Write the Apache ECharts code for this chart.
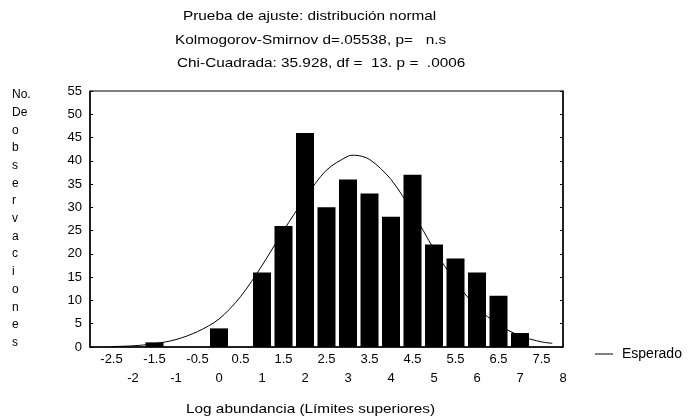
<!DOCTYPE html>
<html lang="es">
<head>
    <meta charset="UTF-8">
    <title>Prueba de ajuste: distribución normal</title>
    <script src="https://cdn.jsdelivr.net/npm/echarts@6.0.0/dist/echarts.min.js"></script>
    <style>
        html, body { margin: 0; padding: 0; background: #fff; }
        #chart { width: 691px; height: 416px; }
    </style>
</head>
<body>
    <div id="chart"></div>

    <script>
        // límites superiores de cada clase y frecuencias observadas
        var binLimits = [-2.5, -2, -1.5, -1, -0.5, 0, 0.5, 1, 1.5, 2, 2.5, 3, 3.5, 4, 4.5, 5, 5.5, 6, 6.5, 7, 7.5, 8];
        var observed  = [0, 0, 1, 0, 0, 4, 0, 16, 26, 46, 30, 36, 33, 28, 37, 22, 19, 16, 11, 3, 0, 0];

        // curva esperada
        var expectedX = [-2.5, -2, -1.5, -1, -0.5, 0, 0.5, 1, 1.5, 2, 2.5, 3, 3.15, 3.5, 4, 4.5, 5, 5.5, 6, 6.5, 7, 7.5, 7.75];
        var expectedY = [0.1, 0.25, 0.7, 1.6, 3.3, 6, 10.8, 17.5, 25, 32, 38, 41, 41.2, 40.3, 36, 29, 21, 14, 8.5, 4.8, 2.4, 1.1, 0.8];

        var titleLines = [
            'Prueba de ajuste: distribución normal',
            'Kolmogorov-Smirnov d=.05538, p=   n.s',
            'Chi-Cuadrada: 35.928, df =  13. p =  .0006'
        ];
        var yTitle = ['No.', 'De', 'o', 'b', 's', 'e', 'r', 'v', 'a', 'c', 'i', 'o', 'n', 'e', 's'];
        var xTitle = 'Log abundancia (Límites superiores)';

        var font = '"Liberation Sans", Arial, sans-serif';

        var barData = binLimits.map(function (x, i) { return [x, observed[i]]; });
        var lineData = expectedX.map(function (x, i) { return [x, expectedY[i]]; });

        // el escaneo original tiene el texto algo ensanchado
        function label(text, left, top) {
            return {
                type: 'text', left: left, top: top, scaleX: 1.18,
                style: { text: text, font: '13px ' + font, fill: '#000' }
            };
        }

        var chart = echarts.init(document.getElementById('chart'));

        var option = {
            animation: false,
            textStyle: { fontFamily: font, color: '#000' },
            grid: { left: 90, right: 128, top: 91, bottom: 69, show: true, borderColor: '#000', borderWidth: 1 },
            legend: {
                data: [{ name: 'Esperado', icon: 'rect' }],
                left: 590,
                top: 342,
                itemWidth: 18,
                itemHeight: 1,
                itemGap: 6,
                textStyle: { fontFamily: font, fontSize: 14, color: '#000', padding: [0, 0, 0, 4] }
            },
            xAxis: {
                type: 'value',
                min: -3,
                max: 8,
                interval: 0.5,
                axisLine: { lineStyle: { color: '#000', width: 1.5 } },
                axisTick: { show: false },
                splitLine: { show: false },
                axisLabel: {
                    margin: 3,
                    fontSize: 13,
                    lineHeight: 19,
                    color: '#000',
                    fontFamily: font,
                    formatter: function (v) {
                        if (v === -3) return '';
                        return Number.isInteger(v) ? '\n' + v : String(v);
                    }
                }
            },
            yAxis: [{
                type: 'value',
                min: 0,
                max: 55,
                interval: 5,
                axisLine: { show: true, onZero: false, lineStyle: { color: '#000', width: 1.5 } },
                axisTick: { show: true, inside: true, length: 3, lineStyle: { color: '#000' } },
                splitLine: { show: false },
                axisLabel: { margin: 8, fontSize: 13, color: '#000', fontFamily: font }
            }, {
                type: 'value',
                position: 'right',
                min: 0,
                max: 55,
                interval: 5,
                axisLine: { show: true, onZero: false, lineStyle: { color: '#000', width: 1.5 } },
                axisTick: { show: true, inside: true, length: 3, lineStyle: { color: '#000' } },
                splitLine: { show: false },
                axisLabel: { show: false }
            }],
            graphic: [
                label(titleLines[0], 183, 10),
                label(titleLines[1], 175, 34),
                label(titleLines[2], 177, 57),
                {
                    type: 'text', left: 12, top: 86,
                    style: { text: yTitle.join('\n'), font: '12px ' + font, lineHeight: 17.7, fill: '#000' }
                },
                label(xTitle, 186, 403)
            ],
            series: [{
                name: 'Observado',
                type: 'bar',
                data: barData,
                barWidth: 18,
                itemStyle: { color: '#000' }
            }, {
                name: 'Esperado',
                type: 'line',
                data: lineData,
                smooth: 0.3,
                symbol: 'none',
                lineStyle: { color: '#000', width: 1 },
                itemStyle: { color: '#000' }
            }]
        };

        chart.setOption(option);
    </script>
</body>
</html>
